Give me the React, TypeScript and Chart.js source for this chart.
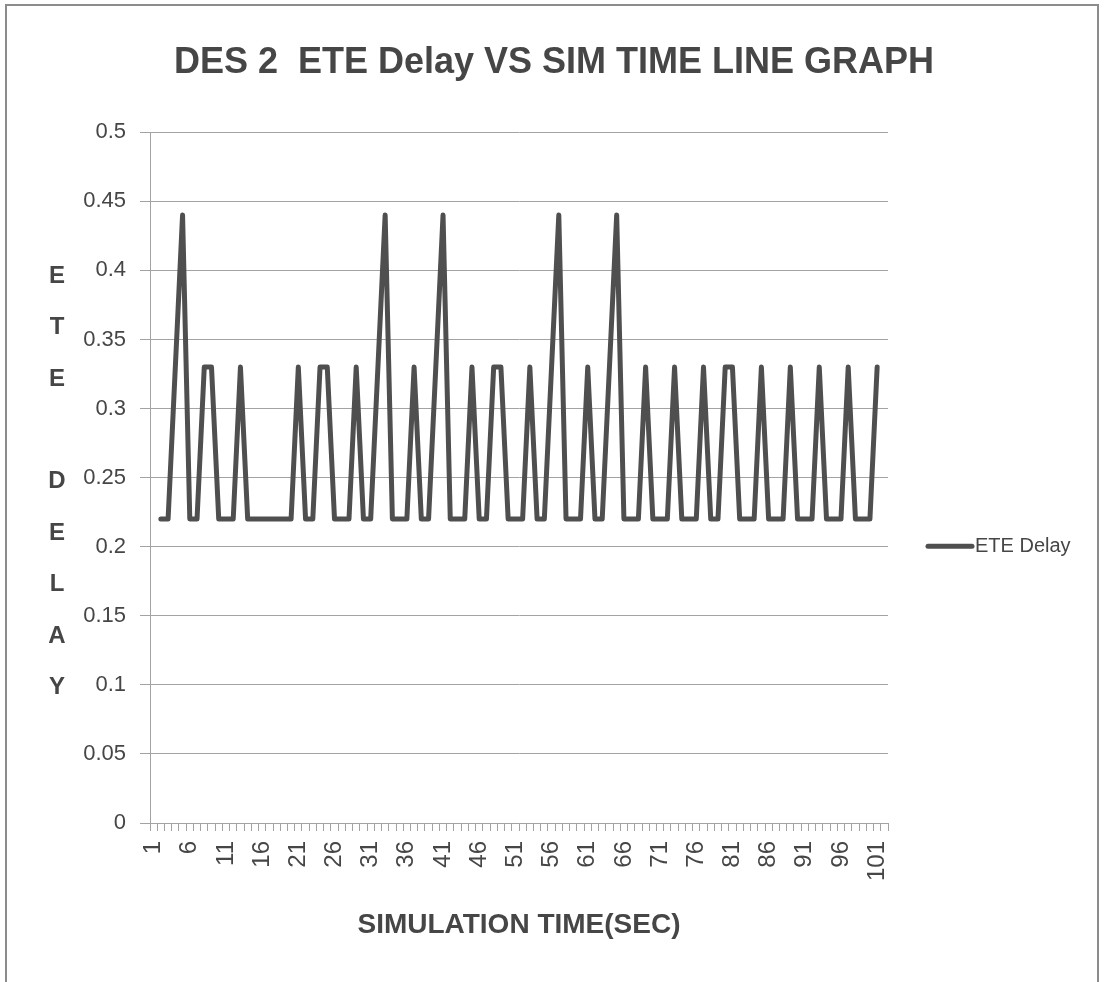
import React, { useEffect, useRef } from 'react';
import { Chart, registerables } from 'chart.js';

Chart.register(...registerables);

const categories = [
  '1', '2', '3', '4', '5', '6', '7', '8', '9', '10',
  '11', '12', '13', '14', '15', '16', '17', '18', '19', '20',
  '21', '22', '23', '24', '25', '26', '27', '28', '29', '30',
  '31', '32', '33', '34', '35', '36', '37', '38', '39', '40',
  '41', '42', '43', '44', '45', '46', '47', '48', '49', '50',
  '51', '52', '53', '54', '55', '56', '57', '58', '59', '60',
  '61', '62', '63', '64', '65', '66', '67', '68', '69', '70',
  '71', '72', '73', '74', '75', '76', '77', '78', '79', '80',
  '81', '82', '83', '84', '85', '86', '87', '88', '89', '90',
  '91', '92', '93', '94', '95', '96', '97', '98', '99', '100',
  '101', '102',
];

const eteDelay: (number | null)[] = [
  null, 0.22, 0.22, 0.33, 0.44, 0.22, 0.22, 0.33, 0.33, 0.22,
  0.22, 0.22, 0.33, 0.22, 0.22, 0.22, 0.22, 0.22, 0.22, 0.22,
  0.33, 0.22, 0.22, 0.33, 0.33, 0.22, 0.22, 0.22, 0.33, 0.22,
  0.22, 0.33, 0.44, 0.22, 0.22, 0.22, 0.33, 0.22, 0.22, 0.33,
  0.44, 0.22, 0.22, 0.22, 0.33, 0.22, 0.22, 0.33, 0.33, 0.22,
  0.22, 0.22, 0.33, 0.22, 0.22, 0.33, 0.44, 0.22, 0.22, 0.22,
  0.33, 0.22, 0.22, 0.33, 0.44, 0.22, 0.22, 0.22, 0.33, 0.22,
  0.22, 0.22, 0.33, 0.22, 0.22, 0.22, 0.33, 0.22, 0.22, 0.33,
  0.33, 0.22, 0.22, 0.22, 0.33, 0.22, 0.22, 0.22, 0.33, 0.22,
  0.22, 0.22, 0.33, 0.22, 0.22, 0.22, 0.33, 0.22, 0.22, 0.22,
  0.33, null,
];

const seriesLabel = 'ETE Delay';
const chartTitle = 'DES 2  ETE Delay VS SIM TIME LINE GRAPH';
const xAxisTitle = 'SIMULATION TIME(SEC)';
const yAxisTitleLetters = ['E', 'T', 'E', '', 'D', 'E', 'L', 'A', 'Y'];
const yMin = 0;
const yMax = 0.5;
const yStep = 0.05;
const xLabelEvery = 5;

const FONT = '"Liberation Sans", Arial, sans-serif';
const TEXT = '#464646';
const GRID = '#a3a3a3';
const LINE = '#4f4f4f';

const yTitlePlugin = {
  id: 'stackedYTitle',
  afterDraw(chart: any) {
    const { ctx, chartArea } = chart;
    ctx.save();
    ctx.fillStyle = TEXT;
    ctx.font = `bold 24px ${FONT}`;
    ctx.textAlign = 'center';
    ctx.textBaseline = 'middle';
    const step = 51.4;
    const startY = chartArea.top + 144;
    yAxisTitleLetters.forEach((ch, i) => {
      if (ch) ctx.fillText(ch, 57, startY + i * step);
    });
    ctx.restore();
  },
};

const sideLegendPlugin = {
  id: 'sideLegend',
  afterDraw(chart: any) {
    const { ctx, chartArea } = chart;
    const ds = chart.data.datasets[0];
    const x0 = chartArea.right + 38;
    const y = chartArea.top + 414;
    ctx.save();
    ctx.strokeStyle = ds.borderColor;
    ctx.lineWidth = ds.borderWidth;
    ctx.lineCap = 'round';
    ctx.beginPath();
    ctx.moveTo(x0 + 2, y);
    ctx.lineTo(x0 + 46, y);
    ctx.stroke();
    ctx.fillStyle = TEXT;
    ctx.font = `20px ${FONT}`;
    ctx.textAlign = 'left';
    ctx.textBaseline = 'middle';
    ctx.fillText(ds.label, x0 + 49, y);
    ctx.restore();
  },
};

export default function App() {
  const canvasRef = useRef<HTMLCanvasElement | null>(null);

  useEffect(() => {
    if (!canvasRef.current) return;
    const chart = new Chart(canvasRef.current, {
      type: 'line',
      data: {
        labels: categories,
        datasets: [
          {
            label: seriesLabel,
            data: eteDelay,
            borderColor: LINE,
            backgroundColor: LINE,
            borderWidth: 5,
            pointRadius: 0,
            tension: 0,
            borderJoinStyle: 'round',
            borderCapStyle: 'round',
            fill: false,
            yAxisID: 'y',
          },
        ],
      },
      options: {
        animation: false,
        responsive: false,
        maintainAspectRatio: false,
        layout: { padding: { left: 1, right: 0, top: 0, bottom: 0 } },
        plugins: {
          legend: { display: false },
          tooltip: { enabled: false },
          title: {
            display: true,
            text: chartTitle,
            color: TEXT,
            font: { family: FONT, size: 36, weight: 'bold' },
            padding: { top: 41, bottom: 48 },
          },
        },
        scales: {
          x: {
            type: 'category',
            offset: true,
            grid: {
              display: true,
              offset: true,
              drawOnChartArea: false,
              drawTicks: true,
              tickLength: 8,
              color: GRID,
            },
            border: { display: true, color: GRID, width: 1 },
            ticks: {
              autoSkip: false,
              maxRotation: 90,
              minRotation: 90,
              padding: 10,
              color: TEXT,
              font: { family: FONT, size: 24 },
              callback: (_v: any, idx: number) =>
                idx % xLabelEvery === 0 ? categories[idx] : '',
            },
            title: {
              display: true,
              text: xAxisTitle,
              color: TEXT,
              font: { family: FONT, size: 28, weight: 'bold' },
              padding: { top: 0, bottom: 40 },
            },
            afterFit: (scale: any) => {
              scale.height = 159;
            },
          },
          y: {
            position: 'left',
            min: yMin,
            max: yMax,
            grid: {
              color: GRID,
              tickLength: 10,
              drawTicks: true,
            },
            border: { display: true, color: GRID, width: 1 },
            ticks: {
              stepSize: yStep,
              padding: 14,
              color: TEXT,
              font: { family: FONT, size: 22 },
              callback: (v: any) => String(Number(Number(v).toFixed(2))),
            },
            afterFit: (scale: any) => {
              scale.width = 149;
            },
          },
          legendSpace: {
            type: 'linear',
            position: 'right',
            display: true,
            grid: { display: false, drawTicks: false },
            border: { display: false },
            ticks: { display: false },
            afterFit: (scale: any) => {
              scale.width = 219;
            },
          },
        },
      },
      plugins: [yTitlePlugin, sideLegendPlugin],
    });
    return () => chart.destroy();
  }, []);

  return (
    <div
      style={{
        position: 'absolute',
        left: 0,
        top: 0,
        width: 1107,
        height: 982,
        background: '#ffffff',
        overflow: 'hidden',
      }}
    >
      <div
        style={{
          position: 'absolute',
          left: 5,
          top: 4,
          width: 1090,
          height: 990,
          borderTop: '2px solid #8c8c8c',
          borderLeft: '2px solid #8c8c8c',
          borderRight: '2px solid #8c8c8c',
        }}
      />
      <canvas
        ref={canvasRef}
        width={1107}
        height={982}
        style={{ position: 'absolute', left: 0, top: 0, width: 1107, height: 982 }}
      />
    </div>
  );
}
